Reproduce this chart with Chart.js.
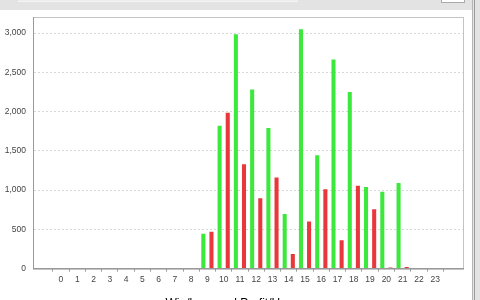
<!DOCTYPE html>
<html>
<head>
<meta charset="utf-8">
<script src="https://cdn.jsdelivr.net/npm/chart.js@4.4.1/dist/chart.umd.min.js"></script>
<style>
  html, body { margin: 0; padding: 0; background: #fff; width: 480px; height: 300px; overflow: hidden; }
  #topbar { position: absolute; left: 0; top: 0; width: 480px; height: 10px; background: #e3e3e3; }
  #topfield { position: absolute; left: 18px; top: 0; width: 280px; height: 1px; background: #ececec; border-bottom: 1px solid #f4f4f4; }
  #topbox { position: absolute; left: 441px; top: 0; width: 22px; height: 2px; background: #fff; border: 1px solid #aaa; border-top: 0; }
  #rightbar { position: absolute; left: 472px; top: 0; width: 8px; height: 300px; background: #e3e3e3; border-left: 1px solid #b5b5b5; }
  #rightline { position: absolute; left: 474px; top: 0; width: 1px; height: 300px; background: #9a9a9a; }
  #wrap { position: absolute; left: 0; top: 10px; width: 472px; height: 310px; }
</style>
</head>
<body>
<div id="topbar"><div id="topfield"></div><div id="topbox"></div></div>
<div id="wrap"><canvas id="chart"></canvas></div>
<div id="rightbar"></div><div id="rightline"></div>
<script>
  // ---------- Data ----------
  const hours = [0, 1, 2, 3, 4, 5, 6, 7, 8, 9, 10, 11, 12, 13, 14, 15, 16, 17, 18, 19, 20, 21, 22, 23];
  const winPerHour = [0, 0, 0, 0, 0, 0, 0, 0, 0, 445, 1820, 2985, 2280, 1790, 695, 3050, 1445, 2665, 2250, 1040, 980, 1090, 0, 0];
  const profitPerHour = [0, 0, 0, 0, 0, 0, 0, 0, 0, 470, 1985, 1330, 895, 1160, 185, 600, 1010, 360, 1055, 755, 15, 20, 0, 0];
  const yTicks = [0, 500, 1000, 1500, 2000, 2500, 3000];
  const titleText = 'Win/hour and Profit/Hour';

  const GREEN = '#3de83d';
  const RED = '#e8383c';
  const FONT = '"Liberation Sans", Arial, sans-serif';

  // plot outline (top/right border of the plot like the original)
  const outline = {
    id: 'outline',
    beforeDraw(chart) {
      const { ctx, chartArea: a } = chart;
      ctx.save();
      ctx.strokeStyle = '#c4c4c4';
      ctx.lineWidth = 1;
      ctx.strokeRect(Math.round(a.left) + 0.5, Math.round(a.top) + 0.5, Math.round(a.right - a.left), Math.round(a.bottom - a.top));
      ctx.restore();
    },
  };

  new Chart(document.getElementById('chart'), {
    type: 'bar',
    data: {
      datasets: [
        { label: 'Win/hour', data: hours.map((h, i) => ({ x: h, y: winPerHour[i] })), backgroundColor: GREEN, borderWidth: 0 },
        { label: 'Profit/hour', data: hours.map((h, i) => ({ x: h, y: profitPerHour[i] })), backgroundColor: RED, borderWidth: 0 },
      ],
    },
    plugins: [outline],
    options: {
      responsive: true,
      maintainAspectRatio: false,
      animation: false,
      categoryPercentage: 1.0,
      barPercentage: 0.5,
      layout: { padding: { top: 7, right: 9, left: 0, bottom: 9 } },
      plugins: {
        legend: { display: false },
        tooltip: { enabled: false },
        title: {
          display: true,
          position: 'bottom',
          text: titleText,
          color: '#000',
          font: { family: FONT, size: 12, weight: 'normal' },
          padding: { top: 0, bottom: 0 },
        },
      },
      scales: {
        x: {
          type: 'linear',
          offset: false,
          min: -1.72,
          max: 24.71,
          afterBuildTicks: (s) => { s.ticks = hours.map((v) => ({ value: v })); },
          afterFit: (s) => { s.height = 28; s.paddingLeft = 0; s.paddingRight = 0; },
          grid: { drawOnChartArea: false, drawTicks: true, tickLength: 3, color: '#999' },
          border: { color: '#999' },
          ticks: { color: '#444', font: { family: FONT, size: 8.5 }, padding: 3, maxRotation: 0, autoSkip: false },
        },
        y: {
          min: 0,
          max: 3205,
          afterBuildTicks: (s) => { s.ticks = yTicks.map((v) => ({ value: v })); },
          afterFit: (s) => { s.width = 33; s.paddingTop = 0; s.paddingBottom = 0; },
          grid: { color: (c) => (c.tick && c.tick.value === 0 ? 'rgba(0,0,0,0)' : '#d8d8d8'), drawTicks: false },
          border: { color: '#999', dash: [2, 2] },
          ticks: {
            color: '#444',
            font: { family: FONT, size: 8.5 },
            padding: 7,
            callback: (v) => v.toLocaleString('en-US'),
          },
        },
      },
    },
  });
</script>
</body>
</html>
